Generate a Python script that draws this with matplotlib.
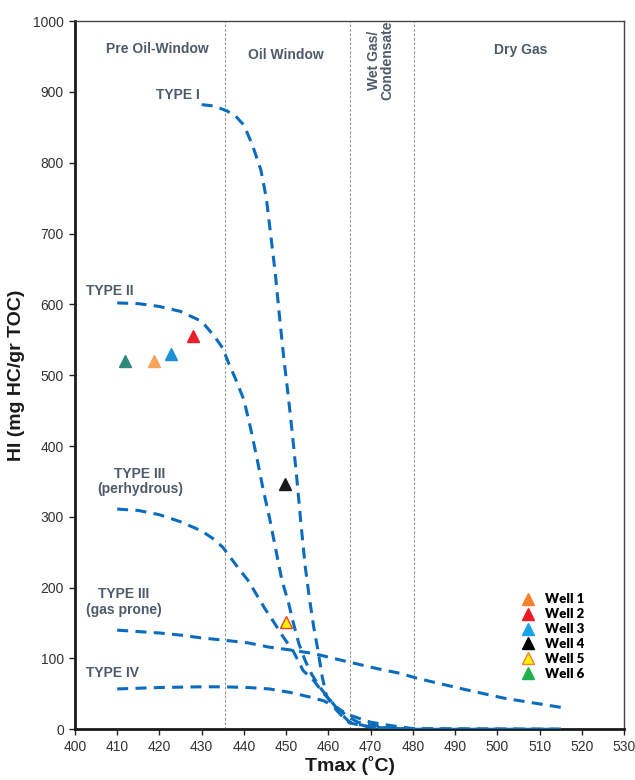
import matplotlib
matplotlib.use("Agg")
import matplotlib.pyplot as plt
from matplotlib.lines import Line2D

plt.rcParams["font.family"] = ["Liberation Sans", "DejaVu Sans"]

# ── kerogen type maturation paths (Tmax °C, HI) ───────────────────────────
TYPE_I_X = [430, 433, 436, 438, 440, 442, 444, 445.3, 446.3, 447.4, 448.3, 449.5,
            450.5, 451.5, 452.5, 453.5, 454.5, 455.5, 456.5, 457.5, 458.5, 459.5,
            461, 463, 465, 470, 480, 515]
TYPE_I_Y = [882, 880, 873, 866, 853, 825, 790, 750, 700, 645, 590, 520,
            470, 415, 355, 290, 230, 185, 145, 112, 75, 48,
            33, 20, 9, 3, 0, 0]

TYPE_II_X = [410, 415, 420, 425, 430, 433, 435, 436.3, 438, 440, 441.5, 443, 444.5,
             446, 447.5, 449, 450.5, 451.7, 453, 454.5, 456, 458, 461, 463, 465,
             470, 480, 515]
TYPE_II_Y = [602, 601, 597, 590, 576, 555, 538, 518, 495, 465, 427, 385, 340,
             300, 255, 210, 180, 150, 121, 97, 78, 59, 37, 22, 10,
             3, 0, 0]

TYPE_III_P_X = [410, 415, 420, 425, 430, 433, 435, 437, 439, 441, 443, 445, 447,
                449, 451.7, 454, 456.5, 458.8, 462, 464.5, 467, 470, 475, 480, 515]
TYPE_III_P_Y = [311, 309, 303, 293, 280, 268, 257, 241, 225, 210, 190, 170, 152,
                133, 110, 83, 69, 51, 31, 18, 10, 6, 2, 0, 0]

TYPE_III_G_X = [410, 415, 420, 425, 430, 435, 441, 446, 451, 456.5, 462, 467, 472,
                477, 481, 491, 501.5, 515]
TYPE_III_G_Y = [140, 138, 136, 133, 129, 126, 122, 116, 112, 107, 99, 92, 85,
                79, 72, 58, 44, 31]

TYPE_IV_X = [410, 420, 430, 435, 441, 446, 451, 456, 459, 462, 465, 470, 475, 480, 515]
TYPE_IV_Y = [57, 59, 60, 60, 59, 57, 52, 45, 40, 30, 20, 10, 5, 1, 0]

# ── well samples ───────────────────────────────────────────────────────────
WELLS = ["Well 1", "Well 2", "Well 3", "Well 4", "Well 5", "Well 6"]
WELL_TMAX = [418.7, 428.0, 422.8, 449.8, 450.0, 411.9]
WELL_HI = [520, 556, 530, 347, 152, 520]

# colours
C_CURVE = "#0A6CBF"
C_TEXT = "#4F5A6A"
WELL_FACE = ["#F5A55A", "#E8202A", "#1D8FD6", "#1A1A1A", "#FFF200", "#2E8B7C"]
WELL_EDGE = ["#F5A55A", "#E8202A", "#1D8FD6", "#1A1A1A", "#E8402A", "#2E8B7C"]
LEG_FACE = ["#F7802A", "#ED1C24", "#1AA3E8", "#000000", "#FFF200", "#22B14C"]
LEG_EDGE = ["#F7802A", "#ED1C24", "#1AA3E8", "#000000", "#F7802A", "#22B14C"]

# maturity zone boundaries
ZONE_EDGES = [435.5, 465, 480.3]

fig = plt.figure(figsize=(6.35, 7.8), dpi=100)
ax = fig.add_axes([0.118, 0.065, 0.865, 0.908])

for xb in ZONE_EDGES:
    ax.axvline(xb, color="#9A9A9A", lw=0.8, ls=(0, (2.5, 1.5)), zorder=1)

dash = (0, (3.6, 2.4))
for xs, ys in [(TYPE_I_X, TYPE_I_Y), (TYPE_II_X, TYPE_II_Y),
               (TYPE_III_P_X, TYPE_III_P_Y), (TYPE_III_G_X, TYPE_III_G_Y),
               (TYPE_IV_X, TYPE_IV_Y)]:
    ax.plot(xs, ys, color=C_CURVE, lw=2.2, ls=dash, zorder=3)

for x, y, fc, ec in zip(WELL_TMAX, WELL_HI, WELL_FACE, WELL_EDGE):
    ax.plot([x], [y], marker="^", ms=9, mfc=fc, mec=ec, mew=1.0, ls="none", zorder=5)

# zone + kerogen labels
kw = dict(color=C_TEXT, fontsize=10, fontweight="bold", ha="center", va="center")
ax.text(419.5, 960, "Pre Oil-Window", **kw)
ax.text(449.8, 952, "Oil Window", **kw)
ax.text(472.4, 944, "Wet Gas/\nCondensate", rotation=90, linespacing=1.0, **kw)
ax.text(505.6, 959, "Dry Gas", **kw)
ax.text(424.4, 896, "TYPE I", **kw)
ax.text(408.3, 619, "TYPE II", **kw)
ax.text(415.4, 350, "TYPE III\n(perhydrous)", linespacing=1.15, **kw)
ax.text(411.6, 180, "TYPE III\n(gas prone)", linespacing=1.15, **kw)
ax.text(408.8, 79, "TYPE IV", **kw)

handles = [Line2D([0], [0], marker="^", ls="none", ms=9, mfc=fc, mec=ec, mew=1.0, label=lb)
           for lb, fc, ec in zip(WELLS, LEG_FACE, LEG_EDGE)]
ax.legend(handles=handles, loc="upper left", bbox_to_anchor=(0.784, 0.205),
          frameon=False, handletextpad=0.3, labelspacing=0.22, borderpad=0.2,
          prop=dict(family=["Lato", "DejaVu Sans"], size=9.5, weight="heavy"))

ax.set_xlim(400, 530)
ax.set_ylim(0, 1000)
ax.set_xticks(range(400, 531, 10))
ax.set_yticks(range(0, 1001, 100))
ax.tick_params(axis="both", direction="out", length=4, width=1, labelsize=10,
               labelcolor="#333333", color="#222222")
ax.tick_params(axis="y", pad=4)

for side in ("left", "bottom"):
    ax.spines[side].set_linewidth(2)
    ax.spines[side].set_color("#1A1A1A")
for side in ("top", "right"):
    ax.spines[side].set_linewidth(1)
    ax.spines[side].set_color("#444444")

ax.set_xlabel("Tmax (˚C)", fontsize=14, fontweight="bold", color="#1A1A1A", labelpad=2)
ax.set_ylabel("HI (mg HC/gr TOC)", fontsize=14, fontweight="bold", color="#1A1A1A", labelpad=6)

fig.savefig("out.png", dpi=100)
